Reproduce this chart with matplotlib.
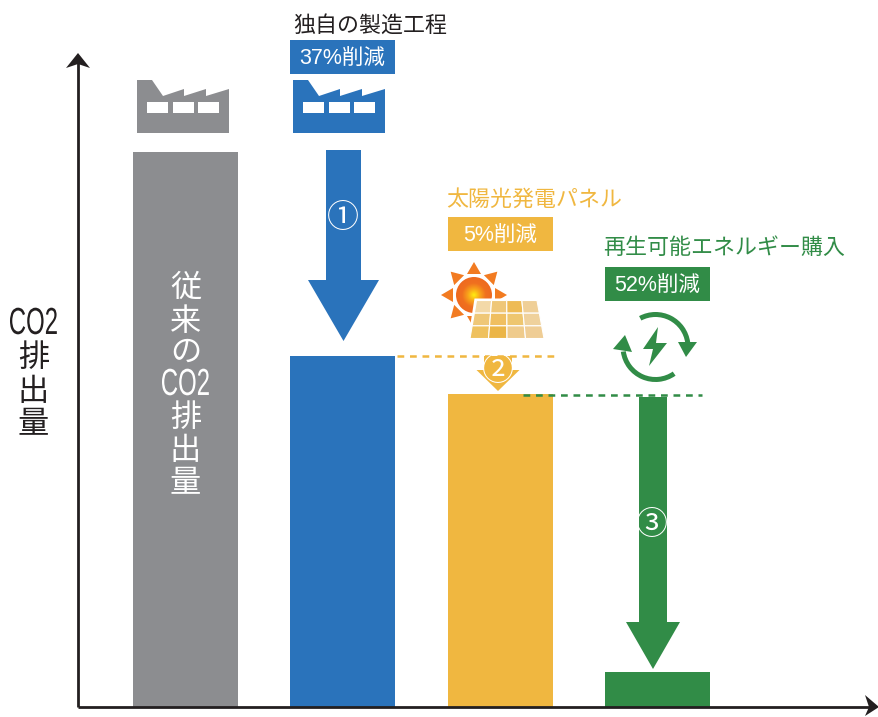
import numpy as np
import matplotlib
matplotlib.use("Agg")
import matplotlib.pyplot as plt
from matplotlib.patches import Polygon, Rectangle, Circle, Wedge
from matplotlib.patheffects import AbstractPathEffect
from matplotlib.transforms import Affine2D

plt.rcParams['font.family'] = ['Noto Sans CJK JP', 'DejaVu Sans']
MIXED = ['Liberation Sans', 'Noto Sans CJK JP']

# Bar data, heights above the baseline
bar_names = ["従来", "独自の製造工程", "太陽光発電パネル", "再生可能エネルギー購入"]
bar_heights = [555, 351, 313, 35]
reductions = ["37%削減", "5%削減", "52%削減"]
marks = ["①", "②", "③"]

GRAY = "#8C8D90"
BLUE = "#2A73BB"
YELLOW = "#F0B740"
GREEN = "#318C47"
INK = "#231F20"

BAR_LEFT = [133, 290, 448, 605]
BAR_WIDTH = 105

fig = plt.figure(figsize=(8.79, 7.17), dpi=100)
ax = fig.add_axes([0, 0, 1, 1])
ax.set_xlim(0, 879)
ax.set_ylim(-10, 707)
ax.axis("off")


class Condensed(AbstractPathEffect):
    # narrows and heightens a text run around its own centre
    def __init__(self, sx, sy):
        super().__init__()
        self.sx = sx
        self.sy = sy

    def draw_path(self, renderer, gc, tpath, affine, rgbFace=None):
        box = tpath.get_extents()
        mx, my = (box.x0 + box.x1) / 2, (box.y0 + box.y1) / 2
        squeeze = Affine2D().translate(-mx, -my).scale(self.sx, self.sy).translate(mx, my)
        renderer.draw_path(gc, tpath, squeeze + affine, rgbFace)


def py(v):
    # height above the baseline from a distance below the top edge
    return 707 - v


def pts(coords):
    return [(x, py(y)) for x, y in coords]


def poly(coords, color, z=3, **kw):
    p = Polygon(pts(coords), closed=True, facecolor=color, edgecolor="none", zorder=z, **kw)
    ax.add_patch(p)
    return p


def down_arrow(xc, top, neck, tip, shaft, head, color, z=3):
    poly([(xc - shaft / 2, top), (xc + shaft / 2, top), (xc + shaft / 2, neck),
          (xc + head / 2, neck), (xc, tip), (xc - head / 2, neck),
          (xc - shaft / 2, neck)], color, z)


def factory(x0, color):
    outline = [(0, 0), (15, 0), (26, 16), (47, 9), (47, 16), (69, 9), (69, 16),
               (92, 9), (92, 53), (0, 53)]
    poly([(x0 + x, 80 + y) for x, y in outline], color)
    for wx in (10, 36, 61):
        ax.add_patch(Rectangle((x0 + wx, py(113)), 21, 11, facecolor="white",
                               edgecolor="none", zorder=4))


def label_box(left, top, text, color):
    ax.add_patch(Rectangle((left, py(top + 34)), BAR_WIDTH, 34, facecolor=color,
                           edgecolor="none", zorder=3))
    ax.text(left + BAR_WIDTH / 2, py(top + 19), text, color="white", fontsize=15.5,
            family=MIXED, ha="center", va="center", zorder=4)


def stacked_label(x, entries, color):
    for text, y in entries:
        if text == "CO2":
            t = ax.text(x, py(y), text, color=color, fontsize=23, family=MIXED,
                        ha="center", va="center", zorder=4)
            t.set_path_effects([Condensed(0.75, 1.18)])
        else:
            ax.text(x, py(y + 2), text, color=color, fontsize=22.5,
                    ha="center", va="center", zorder=4)


# Bars
ax.bar(BAR_LEFT, bar_heights, width=BAR_WIDTH, align="edge",
       color=[GRAY, BLUE, YELLOW, GREEN], zorder=2)

# Axes with arrow heads
ax.plot([78, 78], [py(707), py(60)], color=INK, lw=2, zorder=5, solid_capstyle="butt")
ax.plot([78, 872], [py(707), py(707)], color=INK, lw=2, zorder=5, solid_capstyle="butt")
poly([(78, 53), (90, 68), (78, 64), (66, 68)], INK, 5)
poly([(879, 707), (865, 695), (869, 707), (865, 716)], INK, 5)

# Vertical labels
stacked_label(33.5, [("CO2", 324), ("排", 356), ("出", 390), ("量", 422)], INK)
stacked_label(185.5, [("従", 286), ("来", 320), ("の", 350), ("CO2", 385),
                      ("排", 416), ("出", 449), ("量", 481)], "white")

# Step captions
ax.text(370.5, py(26), bar_names[1], color=INK, fontsize=15.8, ha="center", va="center")
ax.text(534, py(200), bar_names[2], color=YELLOW, fontsize=15.8, ha="center", va="center")
ax.text(724, py(248), bar_names[3], color=GREEN, fontsize=15.8, ha="center", va="center")
label_box(290, 40, reductions[0], BLUE)
label_box(448, 217, reductions[1], YELLOW)
label_box(605, 267, reductions[2], GREEN)

# Factories
factory(137, GRAY)
factory(293, BLUE)

# Step arrows
down_arrow(343.5, 150, 280, 341, 35, 71, BLUE)
down_arrow(498, 356, 370, 391, 28, 43, YELLOW)
down_arrow(653, 397, 622, 669, 28, 54, GREEN)
ax.text(343, py(218), marks[0], color="white", fontsize=23, ha="center", va="center", zorder=6)
ax.text(498, py(371), marks[1], color="white", fontsize=23, ha="center", va="center", zorder=6)
ax.text(652, py(525), marks[2], color="white", fontsize=23, ha="center", va="center", zorder=6)

# Dashed guides between steps
ax.plot([397, 555], [py(356), py(356)], color=YELLOW, lw=1.8, ls=(0, (2.7, 2.3)), zorder=5)
ax.plot([523, 702], [py(394.5), py(394.5)], color=GREEN, lw=1.8, ls=(0, (2.7, 2.3)), zorder=5)

# Sun with radial shading
sun_x, sun_y = 474, 295
yy, xx = np.mgrid[-1:1:80j, -1:1:80j]
rr = np.clip(np.hypot(xx, yy), 0, 1)
shade = matplotlib.colors.LinearSegmentedColormap.from_list(
    "sun", ["#FFEE10", "#F9A51A", "#F0701F", "#EE6A20"])
sun = ax.imshow(rr, cmap=shade, vmin=0, vmax=1, zorder=3, aspect="auto",
                extent=(sun_x - 18, sun_x + 18, py(sun_y + 18), py(sun_y - 18)))
sun.set_clip_path(Circle((sun_x, py(sun_y)), 18, transform=ax.transData))
for ang in np.arange(0, 360, 45):
    a = np.radians(ang)
    ux, uy = np.cos(a), np.sin(a)
    poly([(sun_x + 33 * ux, sun_y - 33 * uy),
          (sun_x + 21 * ux - 7 * uy, sun_y - 21 * uy - 7 * ux),
          (sun_x + 21 * ux + 7 * uy, sun_y - 21 * uy + 7 * ux)], "#F27B21")

# Solar panel
panel_colors = ["#F3D9A8", "#EFC778", "#EEBB55", "#EFCF97",
                "#EFC777", "#F0BF60", "#EEC66F", "#EFD19C",
                "#EFC15E", "#EBB547", "#EFCB8C", "#EFCD95"]
top_l, top_r, bot_l, bot_r = 476.5, 537, 470, 544
panel_top, panel_bot = 300.5, 338.5
poly([(top_l - 2, panel_top - 2), (top_r + 2, panel_top - 2), (bot_r + 2, panel_bot + 1),
      (bot_l - 2, panel_bot + 1)], "white", 4)
for row in range(3):
    for col in range(4):
        t0, t1 = row / 3, (row + 1) / 3
        s0, s1 = col / 4, (col + 1) / 4
        corners = []
        for t, s in [(t0, s0), (t0, s1), (t1, s1), (t1, s0)]:
            left = top_l + (bot_l - top_l) * t
            right = top_r + (bot_r - top_r) * t
            corners.append((left + (right - left) * s, panel_top + (panel_bot - panel_top) * t))
        p = poly(corners, panel_colors[row * 4 + col], 5)
        p.set_edgecolor("white")
        p.set_linewidth(0.8)

# Renewable energy icon
cx, cy, r = 655.5, 347, 33
ax.add_patch(Wedge((cx, py(cy)), r + 2, 8, 118, width=5, facecolor=GREEN, edgecolor="none", zorder=3))
ax.add_patch(Wedge((cx, py(cy)), r + 2, 188, 305, width=5, facecolor=GREEN, edgecolor="none", zorder=3))
poly([(678, 342), (697, 342), (686, 357)], GREEN)
poly([(613, 349), (632, 352), (625, 335)], GREEN)
poly([(658, 327), (643, 349), (653, 349), (649, 366), (667, 343), (656, 343)], GREEN)

fig.savefig("out.png", dpi=100)
